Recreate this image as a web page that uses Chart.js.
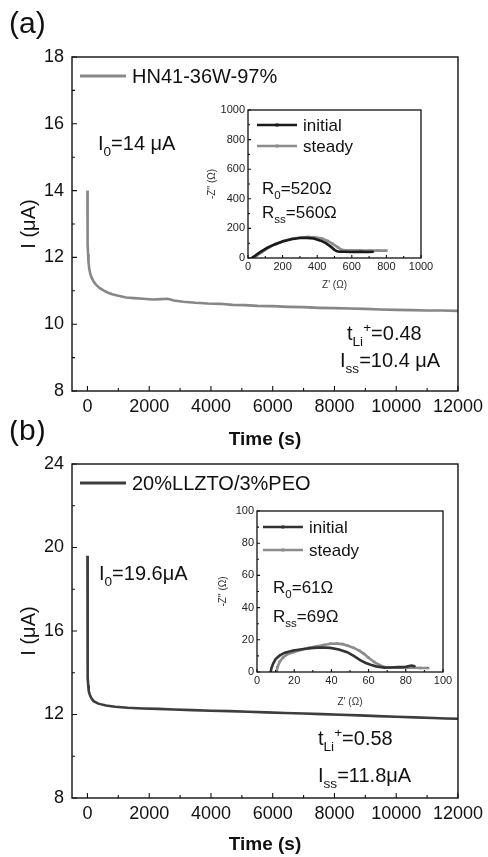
<!DOCTYPE html>
<html>
<head>
<meta charset="utf-8">
<script src="https://cdn.jsdelivr.net/npm/chart.js@4.4.1/dist/chart.umd.min.js"></script>
<style>
  html, body { margin: 0; padding: 0; background: #fff; }
  #wrap { position: relative; width: 488px; height: 857px; overflow: hidden; }
  canvas { position: absolute; }
</style>
</head>
<body>
<div id="wrap">
  <canvas id="mainA" width="488" height="455" style="left:0px;top:0px"></canvas>
  <canvas id="insetA" width="250" height="205" style="left:190px;top:95px"></canvas>
  <canvas id="mainB" width="488" height="437" style="left:0px;top:420px"></canvas>
  <canvas id="insetB" width="270" height="215" style="left:195px;top:495px"></canvas>
</div>
<script>
const FONT = "'Liberation Sans', Arial, sans-serif";
Chart.defaults.font.family = FONT;
Chart.defaults.color = '#111';

// tick labels
const timeTicks = [0, 2000, 4000, 6000, 8000, 10000, 12000];
const currentTicksA = [8, 10, 12, 14, 16, 18];
const currentTicksB = [8, 12, 16, 20, 24];
const zTicksA = [0, 200, 400, 600, 800, 1000];
const zTicksB = [0, 20, 40, 60, 80, 100];

// (a) HN41-36W-97%  current vs time
const timeA = [0, 2, 5, 10, 20, 35, 60, 100, 150, 220, 300, 400, 520, 650, 800, 1000, 1250, 1500, 1800, 2100, 2400, 2600,
  2800, 3100, 3500, 3900, 4300, 4700, 5100, 5500, 6000, 6500, 7000, 7500, 8000, 8500, 9000, 9500, 10000, 10500, 11000, 11500, 12000];
const currentA = [14.0, 13.3, 12.8, 12.4, 12.1, 11.85, 11.65, 11.48, 11.36, 11.25, 11.16, 11.08, 11.01, 10.95, 10.9, 10.85, 10.8, 10.78, 10.76, 10.74, 10.75, 10.76,
  10.71, 10.67, 10.64, 10.62, 10.61, 10.58, 10.57, 10.55, 10.54, 10.52, 10.51, 10.49, 10.48, 10.47, 10.46, 10.44, 10.43, 10.42, 10.41, 10.41, 10.40];

// (a) impedance before / after polarisation
const zReInitA = [21, 40, 70, 110, 150, 200, 250, 300, 340, 380, 420, 450, 480, 500, 515, 530, 560, 600, 650, 700, 725];
const zImInitA = [0, 15, 40, 68, 90, 112, 127, 135, 136, 132, 117, 100, 75, 55, 45, 42, 42, 41, 42, 41, 42];
const zReSteadyA = [32, 50, 80, 120, 160, 210, 260, 310, 350, 390, 430, 460, 490, 520, 540, 560, 600, 650, 700, 750, 800];
const zImSteadyA = [0, 15, 40, 70, 95, 117, 132, 140, 142, 140, 130, 115, 95, 72, 56, 52, 52, 51, 51, 50, 50];

// (b) 20%LLZTO/3%PEO  current vs time
const timeB = [0, 2, 4, 7, 10, 15, 25, 40, 75, 120, 200, 350, 600, 900, 1300, 1800, 2300, 2800, 3400, 4000, 4600, 5200,
  5800, 6400, 7000, 7600, 8200, 8800, 9400, 10000, 10600, 11200, 11600, 12000];
const currentB = [19.6, 18.0, 16.4, 15.0, 14.2, 13.75, 13.4, 13.15, 12.95, 12.8, 12.64, 12.52, 12.43, 12.37, 12.32, 12.29, 12.27, 12.24, 12.21, 12.18, 12.16, 12.13,
  12.1, 12.07, 12.05, 12.02, 11.99, 11.96, 11.92, 11.89, 11.86, 11.83, 11.81, 11.8];

// (b) impedance before / after polarisation
const zReInitB = [7.3, 7.8, 8.7, 10, 12.3, 15, 19.5, 25, 30.4, 35, 39.4, 44, 48.5, 52, 55.7, 58.5, 61.1, 64, 68.4, 72, 76, 80, 83, 85];
const zImInitB = [0, 2.5, 5.2, 8, 10.3, 12, 13.4, 14.3, 15, 15.2, 15, 14, 12.3, 10, 7.2, 5.6, 4.5, 3.5, 2.7, 2.8, 3, 3.2, 4, 3.5];
const zReSteadyB = [10.5, 11, 12.3, 14, 16, 19.5, 24, 28, 32.2, 36, 39.4, 43, 46, 48.5, 52, 55, 57.5, 60, 63, 66, 68.4, 72, 76, 80, 84, 88, 92];
const zImSteadyB = [0, 3, 6.5, 9, 10.8, 12.3, 13.8, 15, 15.9, 16.8, 17.5, 17.6, 17.3, 16.5, 15, 13.3, 11.3, 8.8, 6.2, 4.3, 3.1, 2.8, 2.7, 2.6, 2.6, 2.5, 2.5];

const xy = (xs, ys) => xs.map((x, i) => ({ x, y: ys[i] }));

// text with sub/superscript pieces
function drawRich(ctx, x, y, parts, size) {
  ctx.textAlign = 'left';
  ctx.textBaseline = 'alphabetic';
  ctx.fillStyle = '#111';
  let cx = x;
  for (const [txt, mode] of parts) {
    const s = mode ? size * 0.68 : size;
    const dy = mode === 'sub' ? size * 0.3 : mode === 'sup' ? -size * 0.42 : 0;
    ctx.font = s + 'px ' + FONT;
    ctx.fillText(txt, cx, y + dy);
    cx += ctx.measureText(txt).width;
  }
}

// frame, inward ticks, legend and annotations
const frame = {
  id: 'frame',
  beforeDraw(chart, args, o) {
    if (!o.fill) return;
    const a = chart.chartArea, ctx = chart.ctx;
    ctx.save();
    ctx.fillStyle = '#fff';
    ctx.fillRect(a.left, a.top, a.right - a.left, a.bottom - a.top);
    ctx.restore();
  },
  afterDraw(chart, args, o) {
    const { ctx, chartArea: a, scales: { x, y } } = chart;
    ctx.save();
    ctx.strokeStyle = '#111';
    ctx.lineWidth = o.lw;
    ctx.strokeRect(a.left, a.top, a.right - a.left, a.bottom - a.top);

    ctx.lineWidth = 1.1;
    ctx.beginPath();
    const xv = x.ticks.map(t => t.value), yv = y.ticks.map(t => t.value);
    xv.forEach((v, i) => {
      const p = x.getPixelForValue(v);
      ctx.moveTo(p, a.bottom); ctx.lineTo(p, a.bottom - o.tick);
      if (i < xv.length - 1) {
        const m = x.getPixelForValue((v + xv[i + 1]) / 2);
        ctx.moveTo(m, a.bottom); ctx.lineTo(m, a.bottom - o.minor);
      }
    });
    yv.forEach((v, i) => {
      const p = y.getPixelForValue(v);
      ctx.moveTo(a.left, p); ctx.lineTo(a.left + o.tick, p);
      if (i < yv.length - 1) {
        const m = y.getPixelForValue((v + yv[i + 1]) / 2);
        ctx.moveTo(a.left, m); ctx.lineTo(a.left + o.minor, m);
      }
    });
    ctx.stroke();

    const lg = o.legend;
    chart.data.datasets.forEach((ds, i) => {
      const ly = a.top + lg.y + i * lg.dy;
      ctx.strokeStyle = ds.borderColor;
      ctx.lineWidth = lg.lw;
      ctx.beginPath();
      ctx.moveTo(a.left + lg.x, ly);
      ctx.lineTo(a.left + lg.x + lg.len, ly);
      ctx.stroke();
      if (ds.pointRadius > 0) {
        ctx.fillStyle = ds.borderColor;
        const mx = a.left + lg.x + lg.len / 2;
        ctx.fillRect(mx - 1.5, ly - 1.5, 3, 3);
      }
      ctx.fillStyle = '#111';
      ctx.font = lg.size + 'px ' + FONT;
      ctx.textAlign = 'left';
      ctx.textBaseline = 'middle';
      ctx.fillText(ds.label, a.left + lg.textX, ly + 1);
    });

    (o.notes || []).forEach(n => drawRich(ctx, a.left + n.x, a.top + n.y, n.parts, n.size));

    if (o.label) {
      ctx.fillStyle = '#111';
      ctx.font = o.label.size + 'px ' + FONT;
      ctx.textAlign = 'left';
      ctx.textBaseline = 'alphabetic';
      ctx.fillText(o.label.text, o.label.x, o.label.y);
    }
    ctx.restore();
  }
};

function linearAxis(min, max, tickValues, c) {
  return {
    type: 'linear',
    min, max,
    afterBuildTicks: s => { s.ticks = tickValues.map(v => ({ value: v })); },
    afterFit: s => { if (c.width) s.width = c.width; if (c.height) s.height = c.height; },
    grid: { display: false, drawTicks: false },
    border: { display: false },
    ticks: { padding: c.pad, color: c.tickColor || '#111', font: { size: c.tickSize }, callback: v => String(v) },
    title: { display: true, text: c.title, color: c.titleColor || '#111', padding: c.titlePad,
      font: { size: c.titleSize, weight: c.bold ? 'bold' : 'normal' } }
  };
}

function mainChart(id, t, cur, label, color, yMin, yMax, yTicks, o) {
  return new Chart(document.getElementById(id), {
    type: 'scatter',
    data: { datasets: [{ label, data: xy(t, cur), showLine: true, borderColor: color, borderWidth: 2.6, pointRadius: 0, tension: 0 }] },
    options: {
      responsive: false, animation: false, devicePixelRatio: 1,
      layout: { padding: { top: o.top, right: 29, left: 0, bottom: 0 } },
      scales: {
        x: linearAxis(-500, 12000, timeTicks, { height: o.xh, pad: 5, tickSize: 18, title: 'Time (s)', titleSize: 19, bold: true, titlePad: { top: 0, bottom: o.titlePad } }),
        y: linearAxis(yMin, yMax, yTicks, { width: 72, pad: 8, tickSize: 18, title: 'I (μA)', titleSize: 20, titlePad: { top: 17, bottom: 0 } })
      },
      plugins: {
        legend: { display: false }, tooltip: { enabled: false },
        frame: { lw: 1.4, tick: 5, minor: 3, fill: false,
          legend: { x: 8, y: 19, dy: 0, len: 46, lw: 3, textX: 60, size: 20 },
          notes: o.notes, label: o.label }
      }
    },
    plugins: [frame]
  });
}

function insetChart(id, re0, im0, re1, im1, max, ticks, o) {
  return new Chart(document.getElementById(id), {
    type: 'scatter',
    data: { datasets: [
      { label: 'initial', data: xy(re0, im0), showLine: true, borderColor: o.initColor, backgroundColor: o.initColor, borderWidth: 2.6,
        pointStyle: 'rect', pointRadius: 1, pointBorderWidth: 0, tension: 0 },
      { label: 'steady', data: xy(re1, im1), showLine: true, borderColor: '#8c8c8c', backgroundColor: '#8c8c8c', borderWidth: 2.6,
        pointStyle: 'rect', pointRadius: 1.8, pointBorderWidth: 0, tension: 0 }
    ] },
    options: {
      responsive: false, animation: false, devicePixelRatio: 1,
      layout: { padding: { top: o.top, right: o.right, left: 0, bottom: 0 } },
      scales: {
        x: linearAxis(0, max, ticks, { height: o.xh, pad: o.xpad, tickSize: 11, tickColor: '#222', title: "Z' (Ω)", titleSize: 10,
          titleColor: '#333', titlePad: { top: 0, bottom: o.titlePad } }),
        y: linearAxis(0, max, ticks, { width: o.yw, pad: 3, tickSize: 11, tickColor: '#222', title: "-Z'' (Ω)", titleSize: 10,
          titleColor: '#333', titlePad: { top: o.ytitlePad, bottom: 0 } })
      },
      plugins: {
        legend: { display: false }, tooltip: { enabled: false },
        frame: { lw: 1.3, tick: 3, minor: 2, fill: true,
          legend: { x: o.lgx, y: o.lgy, dy: o.lgdy, len: 40, lw: 2.6, textX: o.lgx + 46, size: 17 },
          notes: o.notes }
      }
    },
    plugins: [frame]
  });
}

mainChart('mainA', timeA, currentA, 'HN41-36W-97%', '#878787', 8, 18, currentTicksA, {
  top: 57, xh: 64, titlePad: 4,
  label: { text: '(a)', x: 9, y: 33, size: 30 },
  notes: [
    { x: 26, y: 93, size: 20, parts: [['I', ''], ['0', 'sub'], ['=14 μA', '']] },
    { x: 275, y: 283, size: 20, parts: [['t', ''], ['Li', 'sub'], ['+', 'sup'], ['=0.48', '']] },
    { x: 268, y: 310, size: 20, parts: [['I', ''], ['ss', 'sub'], ['=10.4 μA', '']] }
  ]
});

insetChart('insetA', zReInitA, zImInitA, zReSteadyA, zImSteadyA, 1000, zTicksA, {
  top: 15, right: 19, xh: 42, xpad: 2, titlePad: 9, yw: 58, ytitlePad: 16, initColor: '#1a1a1a',
  lgx: 9, lgy: 15, lgdy: 21,
  notes: [
    { x: 14, y: 84, size: 17, parts: [['R', ''], ['0', 'sub'], ['=520Ω', '']] },
    { x: 14, y: 108, size: 17, parts: [['R', ''], ['ss', 'sub'], ['=560Ω', '']] }
  ]
});

mainChart('mainB', timeB, currentB, '20%LLZTO/3%PEO', '#3d3d3d', 8, 24, currentTicksB, {
  top: 44, xh: 59, titlePad: 1,
  label: { text: '(b)', x: 9, y: 20, size: 30 },
  notes: [
    { x: 27, y: 116, size: 20, parts: [['I', ''], ['0', 'sub'], ['=19.6μA', '']] },
    { x: 246, y: 281, size: 20, parts: [['t', ''], ['Li', 'sub'], ['+', 'sup'], ['=0.58', '']] },
    { x: 246, y: 318, size: 20, parts: [['I', ''], ['ss', 'sub'], ['=11.8μA', '']] }
  ]
});

insetChart('insetB', zReInitB, zImInitB, zReSteadyB, zImSteadyB, 100, zTicksB, {
  top: 16, right: 22, xh: 38, xpad: 2, titlePad: 2, yw: 62, ytitlePad: 22, initColor: '#333333',
  lgx: 6, lgy: 16, lgdy: 23,
  notes: [
    { x: 16, y: 82, size: 17, parts: [['R', ''], ['0', 'sub'], ['=61Ω', '']] },
    { x: 16, y: 111, size: 17, parts: [['R', ''], ['ss', 'sub'], ['=69Ω', '']] }
  ]
});
</script>
</body>
</html>
